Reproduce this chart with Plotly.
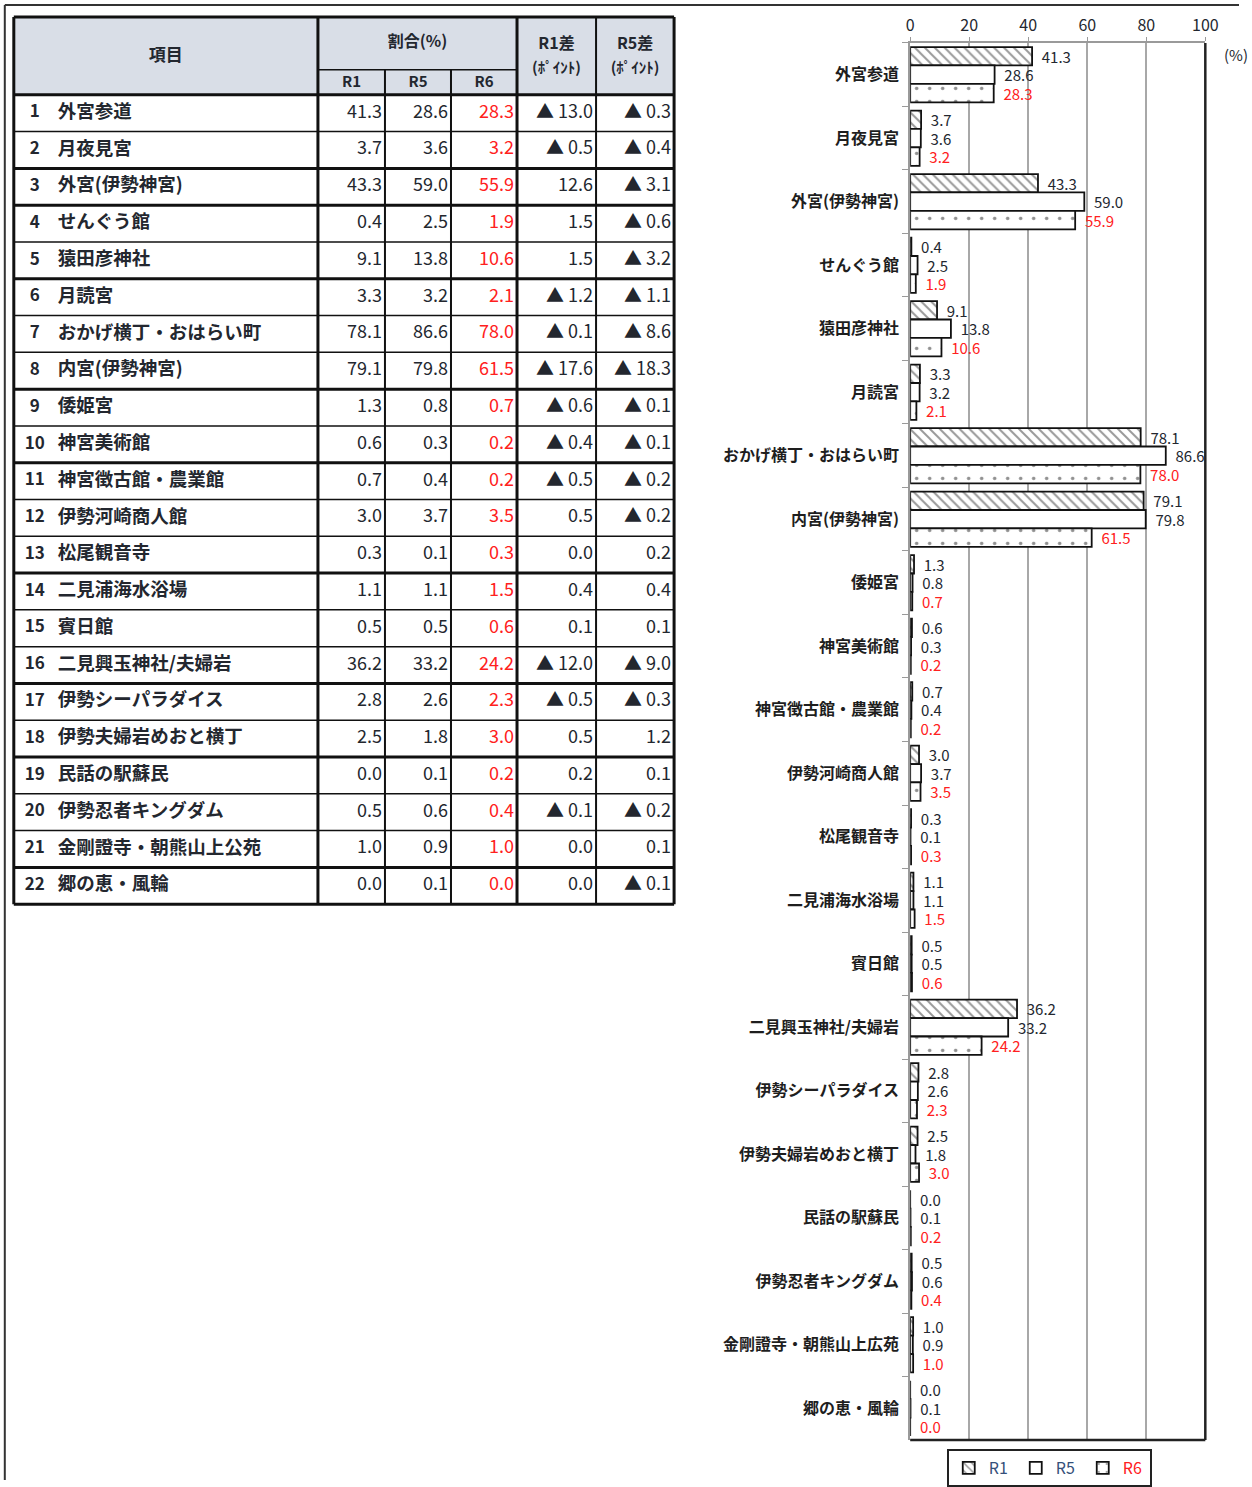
import plotly.graph_objects as go

# ---------------- data ----------------
items = ["外宮参道", "月夜見宮", "外宮(伊勢神宮)", "せんぐう館", "猿田彦神社", "月読宮",
         "おかげ横丁・おはらい町", "内宮(伊勢神宮)", "倭姫宮", "神宮美術館", "神宮徴古館・農業館",
         "伊勢河崎商人館", "松尾観音寺", "二見浦海水浴場", "賓日館", "二見興玉神社/夫婦岩",
         "伊勢シーパラダイス", "伊勢夫婦岩めおと横丁", "民話の駅蘇民", "伊勢忍者キングダム",
         "金剛證寺・朝熊山上公苑", "郷の恵・風輪"]
chart_labels = ["外宮参道", "月夜見宮", "外宮(伊勢神宮)", "せんぐう館", "猿田彦神社", "月読宮",
                "おかげ横丁・おはらい町", "内宮(伊勢神宮)", "倭姫宮", "神宮美術館", "神宮徴古館・農業館",
                "伊勢河崎商人館", "松尾観音寺", "二見浦海水浴場", "賓日館", "二見興玉神社/夫婦岩",
                "伊勢シーパラダイス", "伊勢夫婦岩めおと横丁", "民話の駅蘇民", "伊勢忍者キングダム",
                "金剛證寺・朝熊山上広苑", "郷の恵・風輪"]
r1 = [41.3, 3.7, 43.3, 0.4, 9.1, 3.3, 78.1, 79.1, 1.3, 0.6, 0.7, 3.0, 0.3, 1.1, 0.5, 36.2, 2.8, 2.5, 0.0, 0.5, 1.0, 0.0]
r5 = [28.6, 3.6, 59.0, 2.5, 13.8, 3.2, 86.6, 79.8, 0.8, 0.3, 0.4, 3.7, 0.1, 1.1, 0.5, 33.2, 2.6, 1.8, 0.1, 0.6, 0.9, 0.1]
r6 = [28.3, 3.2, 55.9, 1.9, 10.6, 2.1, 78.0, 61.5, 0.7, 0.2, 0.2, 3.5, 0.3, 1.5, 0.6, 24.2, 2.3, 3.0, 0.2, 0.4, 1.0, 0.0]
diff_r1 = [-13.0, -0.5, 12.6, 1.5, 1.5, -1.2, -0.1, -17.6, -0.6, -0.4, -0.5, 0.5, 0.0, 0.4, 0.1, -12.0, -0.5, 0.5, 0.2, -0.1, 0.0, 0.0]
diff_r5 = [-0.3, -0.4, -3.1, -0.6, -3.2, -1.1, -8.6, -18.3, -0.1, -0.1, -0.2, -0.2, 0.2, 0.4, 0.1, -9.0, -0.3, 1.2, 0.1, -0.2, 0.1, -0.1]
series_names = ["R1", "R5", "R6"]
x_ticks = [0, 20, 40, 60, 80, 100]
thick_after_rows = [2, 3, 5, 8, 10, 13, 16, 18, 21, 22]
header_main = ["項目", "割合(%)"]
header_diff = ["R1差", "R5差"]
header_unit = "(ﾎﾟｲﾝﾄ)"

# ---------------- style / layout constants ----------------
W, H = 1252, 1487
# the captured page is slightly rescaled; target pixel positions are mapped back here
SX, OX, SY = 0.986, 4.2, 0.9973

def px(x):
    return ((x - OX) / SX) / W

def py(y):
    return 1 - (y / SY) / H

FONT = "Noto Sans CJK JP"
DARK = "#23272f"
RED = "#ff2020"
col_w = [304, 67, 66, 66, 79, 78]           # table column widths (target px)
col_edges = [0]
for w in col_w:
    col_edges.append(col_edges[-1] + w)
TBL_L, TBL_T, TBL_HDR_B, TBL_B = 14, 17, 95, 906
N = len(items)
ROW_PX = (TBL_B - TBL_HDR_B) / N
HDR = (TBL_HDR_B - TBL_T) / ROW_PX
PAD = 5

def px2row(yy):
    return (yy - TBL_HDR_B) / ROW_PX

fig = go.Figure()

# ---------------- bar chart ----------------
patterns = [
    dict(shape="\\", fgcolor="#333333", bgcolor="white", size=7, solidity=0.28),
    None,
    dict(shape=".", fgcolor="#222222", bgcolor="white", size=13, solidity=0.06),
]
text_colors = [DARK, DARK, RED]
legend_names = ["R1", "R5", '<span style="color:%s">R6</span>' % RED]
for vals, name, pat, tc, ln in zip([r1, r5, r6], series_names, patterns, text_colors, legend_names):
    marker = dict(color="white", line=dict(color="#111111", width=1.8))
    if pat:
        marker["pattern"] = pat
    fig.add_trace(go.Bar(
        x=vals, y=chart_labels, orientation="h", name=ln, marker=marker,
        text=["\u00a0\u00a0%.1f" % v for v in vals], textposition="outside",
        textfont=dict(family=FONT, size=15, color=tc), constraintext="none",
        cliponaxis=False, hoverinfo="x+y",
    ))

fig.update_layout(
    xaxis=dict(domain=[px(910), px(1205)], range=[0, 100], side="top", tickvals=x_ticks,
               showgrid=True, gridcolor="#a8a8a8", gridwidth=2, zeroline=False,
               showline=True, linecolor="#9a9a9a", linewidth=2,
               ticks="outside", ticklen=4, tickcolor="#9a9a9a",
               tickfont=dict(family=FONT, size=16, color=DARK), anchor="y"),
    yaxis=dict(domain=[py(1443), py(43)], type="category", autorange="reversed",
               showline=True, linecolor="#9a9a9a", linewidth=2, showgrid=False,
               ticks="outside", ticklen=6, tickcolor="#9a9a9a", tickson="boundaries",
               tickfont=dict(family=FONT, size=16, color="#1e1e1e", weight="bold"),
               ticklabelstandoff=6, anchor="x"),
)

fig.add_shape(type="line", xref="x domain", yref="y domain", x0=1, x1=1, y0=0, y1=1,
              line=dict(color="#222222", width=2.5))
fig.add_shape(type="line", xref="x domain", yref="y domain", x0=0, x1=1, y0=0, y1=0,
              line=dict(color="#222222", width=2.5))

fig.add_annotation(text="(%)", x=px(1236), y=py(55), xref="paper", yref="paper",
                   xanchor="center", yanchor="middle", showarrow=False,
                   font=dict(family=FONT, size=15, color=DARK))

# ---------------- table ----------------
xr = [-PAD, col_edges[-1] + PAD]
yr = [N + PAD / ROW_PX, -HDR - PAD / ROW_PX]
fig.update_layout(
    xaxis2=dict(domain=[px(TBL_L - PAD), px(TBL_L + col_edges[-1] + PAD)], range=xr,
                visible=False, anchor="y2", fixedrange=True),
    yaxis2=dict(domain=[py(TBL_B + PAD), py(TBL_T - PAD)], range=yr,
                visible=False, anchor="x2", fixedrange=True),
)

fig.add_shape(type="rect", xref="x2", yref="y2", x0=0, x1=col_edges[-1], y0=-HDR, y1=0,
              fillcolor="#d9dee7", line=dict(width=0), layer="below")

LINE = "#111111"
THIN, MID, THICK = 1.5, 2.0, 3.0
sub_y = px2row(70)
fig.add_shape(type="line", xref="x2", yref="y2", x0=col_edges[1], x1=col_edges[4], y0=sub_y, y1=sub_y,
              line=dict(color=LINE, width=THIN))
for yy in [-HDR, 0]:
    fig.add_shape(type="line", xref="x2", yref="y2", x0=0, x1=col_edges[-1], y0=yy, y1=yy,
                  line=dict(color=LINE, width=THICK))
for r in range(1, N + 1):
    w = THICK if r in thick_after_rows else THIN
    fig.add_shape(type="line", xref="x2", yref="y2", x0=0, x1=col_edges[-1], y0=r, y1=r,
                  line=dict(color=LINE, width=w))
v_styles = [THICK, THICK, MID, MID, THICK, MID, THICK]
for i, xe in enumerate(col_edges):
    top = sub_y if i in (2, 3) else -HDR
    fig.add_shape(type="line", xref="x2", yref="y2", x0=xe, x1=xe, y0=top, y1=N,
                  line=dict(color=LINE, width=v_styles[i]))

rows_y = [i + 0.5 for i in range(N)]

def add_text(xs, ys, texts, pos, color=DARK, weight="normal", size=18):
    fig.add_trace(go.Scatter(
        x=xs, y=ys, text=texts, mode="text", textposition=pos,
        textfont=dict(family=FONT, size=size, color=color, weight=weight),
        xaxis="x2", yaxis="y2", showlegend=False, hoverinfo="skip", cliponaxis=False))

mid = lambda a, b: (col_edges[a] + col_edges[b]) / 2
add_text([mid(0, 1)], [px2row(57)], [header_main[0]], "middle center", weight="bold", size=17)
add_text([mid(1, 4)], [px2row(43)], [header_main[1]], "middle center", weight="bold", size=16)
add_text([mid(1, 2), mid(2, 3), mid(3, 4)], [px2row(83)] * 3, series_names, "middle center", weight="bold", size=15)
add_text([mid(4, 5), mid(5, 6)], [px2row(45)] * 2, header_diff, "middle center", weight="bold", size=16)
add_text([mid(4, 5), mid(5, 6)], [px2row(69)] * 2, [header_unit] * 2, "middle center", weight="bold", size=15)

add_text([21] * N, rows_y, [str(i + 1) for i in range(N)], "middle center", weight="bold", size=17)
add_text([44] * N, rows_y, items, "middle right", weight="bold", size=18.5)

def fmt_diff(v):
    return ("▲ %.1f" % abs(v)) if v < 0 else ("%.1f" % v)

for ci, (vals, color) in enumerate([(r1, DARK), (r5, DARK), (r6, RED)]):
    add_text([col_edges[ci + 2] - 3] * N, rows_y, ["%.1f" % v for v in vals], "middle left", color=color)
add_text([col_edges[5] - 3] * N, rows_y, [fmt_diff(v) for v in diff_r1], "middle left")
add_text([col_edges[6] - 3] * N, rows_y, [fmt_diff(v) for v in diff_r5], "middle left")

# outer frame
fig.add_shape(type="line", xref="paper", yref="paper", x0=px(5), x1=px(5), y0=0, y1=py(5),
              line=dict(color="#333333", width=2))
fig.add_shape(type="line", xref="paper", yref="paper", x0=px(5), x1=1, y0=py(5), y1=py(5),
              line=dict(color="#333333", width=2))

fig.update_layout(
    width=W, height=H, margin=dict(l=0, r=0, t=0, b=0),
    paper_bgcolor="white", plot_bgcolor="white",
    barmode="group", bargap=0.13, bargroupgap=0,
    font=dict(family=FONT, color=DARK),
    showlegend=True,
    legend=dict(orientation="h", x=px(1049), y=py(1471), xanchor="center", yanchor="middle",
                bordercolor="#222222", borderwidth=2, bgcolor="white",
                font=dict(family=FONT, size=16, color="#35507a"), itemwidth=30,
                entrywidth=22, traceorder="normal"),
)

fig.write_html(
    "out.html",
    config={"displayModeBar": False, "responsive": False},
    post_script="document.body.style.margin='0';document.body.style.overflow='hidden';"
                "document.documentElement.style.overflow='hidden';",
)
